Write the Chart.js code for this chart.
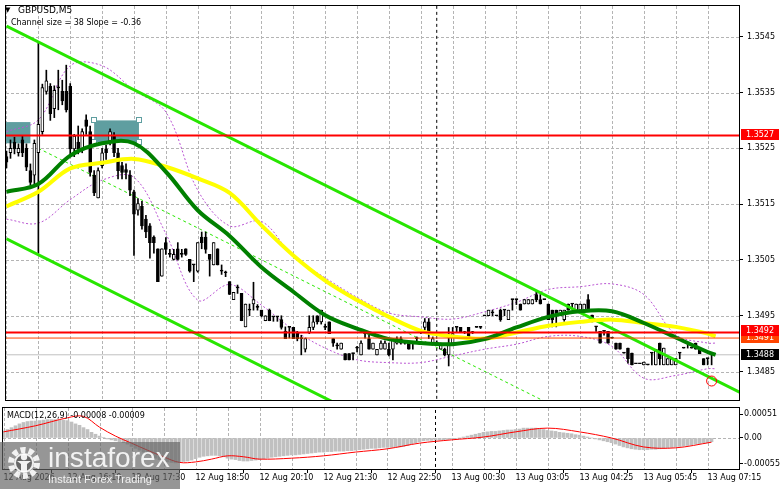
<!DOCTYPE html>
<html>
<head>
<meta charset="utf-8">
<script src="https://cdn.jsdelivr.net/npm/chart.js@4.4.1/dist/chart.umd.min.js"></script>
<style>
html, body { margin: 0; padding: 0; background: #fff; }
#wrap { position: relative; width: 781px; height: 489px; overflow: hidden; font-family: 'DejaVu Sans', sans-serif; }
#main { position: absolute; left: 0; top: 0; }
#macd { position: absolute; left: 0; top: 406px; }
.txt { position: absolute; white-space: nowrap; color: #000; }
#wm { position: absolute; left: 0; top: 442px; width: 180px; height: 47px; background: rgba(100,100,100,0.68); }
#wm .big { position: absolute; left: 48px; top: 3px; font: 27px/27px 'Liberation Sans', sans-serif; color: rgba(255,255,255,0.88); transform: scaleX(1.04); transform-origin: left top; }
#wm .small { position: absolute; left: 48px; top: 32px; font: 11px/11px 'Liberation Sans', sans-serif; color: rgba(255,255,255,0.88); }
</style>
</head>
<body>
<div id="wrap">
  <canvas id="main" width="781" height="406"></canvas>
  <canvas id="macd" width="781" height="83"></canvas>
  <div class="txt" style="left:5px;top:7px;font-size:7px;line-height:7px;">&#9660;</div>
  <div class="txt" style="left:18px;top:6px;font-size:9px;line-height:9px;">GBPUSD,M5</div>
  <div class="txt" style="left:11px;top:19px;font-size:8px;line-height:8px;">Channel size = 38 Slope = -0.36</div>
  <div class="txt" style="left:7px;top:412px;font-size:8px;line-height:8px;">MACD(12,26,9) -0.00008 -0.00009</div>
  <div id="wm">
    <svg width="44" height="47" style="position:absolute;left:2px;top:0;">
      <circle cx="22" cy="21" r="13" fill="none" stroke="rgba(255,255,255,0.88)" stroke-width="6" stroke-dasharray="5 3.2"/>
      <circle cx="22" cy="21" r="9" fill="rgba(100,100,100,0.9)" stroke="rgba(255,255,255,0.88)" stroke-width="2"/>
      <circle cx="22" cy="15" r="3.2" fill="rgba(255,255,255,0.92)"/>
      <path d="M15 19 L29 19 L25 22 L25 30 L19 30 L19 22 Z" fill="rgba(255,255,255,0.92)"/>
    </svg>
    <div class="big">instaforex</div>
    <div class="small">Instant Forex Trading</div>
  </div>
</div>
<script>
// ---- data ----
const timeLabels = ['12 Aug 2026', '12 Aug 16:10', '12 Aug 17:30', '12 Aug 18:50', '12 Aug 20:10', '12 Aug 21:30',
  '12 Aug 22:50', '13 Aug 00:30', '13 Aug 03:05', '13 Aug 04:25', '13 Aug 05:45', '13 Aug 07:15'];

const openP = [
  1.35235, 1.35242, 1.35261, 1.35242, 1.35265, 1.35250, 1.35210, 1.35202, 1.35242, 1.35280,
  1.35352, 1.35361, 1.35321, 1.35360, 1.35352, 1.35352, 1.35361, 1.35249, 1.35261, 1.35249,
  1.35301, 1.35280, 1.35202, 1.35161, 1.35219, 1.35249, 1.35263, 1.35272, 1.35242, 1.35219,
  1.35212, 1.35202, 1.35172, 1.35139, 1.35146, 1.35123, 1.35111, 1.35091, 1.35070, 1.35021,
  1.35081, 1.35060, 1.35051, 1.35070, 1.35062, 1.35070, 1.35051, 1.35041, 1.35030, 1.35091,
  1.35091, 1.35060, 1.35041, 1.35070, 1.35030, 1.35027, 1.35011, 1.34979, 1.35000, 1.34990,
  1.34930, 1.34960, 1.34971, 1.34965, 1.34960, 1.34941, 1.34960, 1.34948, 1.34948, 1.34943,
  1.34922, 1.34929, 1.34929, 1.34920, 1.34909, 1.34890, 1.34920, 1.34929, 1.34950, 1.34939,
  1.34929, 1.34939, 1.34909, 1.34896, 1.34890, 1.34882, 1.34882, 1.34882, 1.34892, 1.34880,
  1.34918, 1.34909, 1.34890, 1.34880, 1.34890, 1.34890, 1.34890, 1.34890, 1.34901, 1.34909,
  1.34901, 1.34901, 1.34901, 1.34909, 1.34920, 1.34929, 1.34939, 1.34901, 1.34901, 1.34890,
  1.34890, 1.34880, 1.34901, 1.34929, 1.34929, 1.34920, 1.34929, 1.34920, 1.34929, 1.34929,
  1.34950, 1.34950, 1.34955, 1.34950, 1.34960, 1.34960, 1.34943, 1.34979, 1.34979, 1.34971,
  1.34971, 1.34971, 1.34971, 1.34988, 1.34979, 1.34979, 1.34971, 1.34960, 1.34960, 1.34950,
  1.34943, 1.34971, 1.34971, 1.34960, 1.34960, 1.34960, 1.34979, 1.34951, 1.34930, 1.34922,
  1.34922, 1.34922, 1.34910, 1.34901, 1.34901, 1.34883, 1.34892, 1.34883, 1.34864, 1.34864,
  1.34862, 1.34862, 1.34883, 1.34862, 1.34901, 1.34862, 1.34862, 1.34862, 1.34862, 1.34883,
  1.34892, 1.34901, 1.34892, 1.34901, 1.34892, 1.34873, 1.34873, 1.34880];
const highP = [
  1.35245, 1.35265, 1.35270, 1.35258, 1.35272, 1.35258, 1.35222, 1.35265, 1.35441, 1.35365,
  1.35390, 1.35366, 1.35362, 1.35390, 1.35372, 1.35399, 1.35366, 1.35275, 1.35290, 1.35285,
  1.35310, 1.35290, 1.35210, 1.35215, 1.35250, 1.35256, 1.35285, 1.35278, 1.35250, 1.35225,
  1.35222, 1.35210, 1.35175, 1.35160, 1.35155, 1.35130, 1.35115, 1.35093, 1.35070, 1.35070,
  1.35090, 1.35069, 1.35069, 1.35081, 1.35069, 1.35070, 1.35051, 1.35041, 1.35081, 1.35100,
  1.35100, 1.35060, 1.35081, 1.35070, 1.35041, 1.35030, 1.35011, 1.34992, 1.35005, 1.34990,
  1.34971, 1.34971, 1.35010, 1.34970, 1.34960, 1.34950, 1.34962, 1.34948, 1.34948, 1.34950,
  1.34930, 1.34929, 1.34929, 1.34922, 1.34915, 1.34909, 1.34950, 1.34950, 1.34950, 1.34960,
  1.34935, 1.34939, 1.34909, 1.34901, 1.34901, 1.34882, 1.34882, 1.34882, 1.34895, 1.34905,
  1.34918, 1.34915, 1.34901, 1.34890, 1.34905, 1.34905, 1.34901, 1.34909, 1.34912, 1.34912,
  1.34905, 1.34901, 1.34901, 1.34912, 1.34922, 1.34945, 1.34945, 1.34912, 1.34905, 1.34901,
  1.34892, 1.34929, 1.34929, 1.34929, 1.34929, 1.34922, 1.34929, 1.34922, 1.34929, 1.34931,
  1.34950, 1.34960, 1.34960, 1.34950, 1.34962, 1.34960, 1.34960, 1.34979, 1.34979, 1.34971,
  1.34979, 1.34979, 1.34979, 1.34995, 1.34988, 1.34979, 1.34971, 1.34960, 1.34960, 1.34960,
  1.34960, 1.34971, 1.34971, 1.34971, 1.34971, 1.34971, 1.34988, 1.34951, 1.34930, 1.34922,
  1.34922, 1.34922, 1.34910, 1.34901, 1.34901, 1.34883, 1.34892, 1.34883, 1.34864, 1.34864,
  1.34867, 1.34862, 1.34883, 1.34890, 1.34901, 1.34892, 1.34873, 1.34873, 1.34873, 1.34883,
  1.34892, 1.34901, 1.34892, 1.34901, 1.34892, 1.34873, 1.34873, 1.34880];
const lowP = [
  1.35215, 1.35232, 1.35240, 1.35236, 1.35235, 1.35210, 1.35184, 1.35184, 1.35062, 1.35275,
  1.35347, 1.35300, 1.35305, 1.35319, 1.35328, 1.35315, 1.35240, 1.35235, 1.35240, 1.35242,
  1.35275, 1.35200, 1.35165, 1.35161, 1.35215, 1.35230, 1.35256, 1.35235, 1.35195, 1.35195,
  1.35195, 1.35165, 1.35058, 1.35130, 1.35105, 1.35090, 1.35053, 1.35062, 1.35011, 1.35021,
  1.35060, 1.35055, 1.35050, 1.35050, 1.35055, 1.35058, 1.35028, 1.35011, 1.35028, 1.35070,
  1.35062, 1.35021, 1.35041, 1.35041, 1.35024, 1.35020, 1.34988, 1.34979, 1.34990, 1.34941,
  1.34930, 1.34950, 1.34960, 1.34960, 1.34948, 1.34941, 1.34941, 1.34940, 1.34940, 1.34926,
  1.34909, 1.34910, 1.34909, 1.34905, 1.34880, 1.34885, 1.34918, 1.34925, 1.34935, 1.34935,
  1.34925, 1.34918, 1.34895, 1.34890, 1.34890, 1.34871, 1.34871, 1.34871, 1.34885, 1.34880,
  1.34910, 1.34890, 1.34890, 1.34880, 1.34890, 1.34890, 1.34878, 1.34871, 1.34899, 1.34899,
  1.34899, 1.34890, 1.34890, 1.34905, 1.34918, 1.34925, 1.34909, 1.34899, 1.34899, 1.34890,
  1.34878, 1.34860, 1.34899, 1.34920, 1.34920, 1.34918, 1.34909, 1.34918, 1.34929, 1.34927,
  1.34950, 1.34950, 1.34950, 1.34950, 1.34940, 1.34950, 1.34943, 1.34960, 1.34970, 1.34960,
  1.34971, 1.34971, 1.34971, 1.34975, 1.34971, 1.34979, 1.34943, 1.34930, 1.34930, 1.34950,
  1.34940, 1.34960, 1.34962, 1.34960, 1.34960, 1.34960, 1.34960, 1.34939, 1.34922, 1.34901,
  1.34915, 1.34901, 1.34910, 1.34890, 1.34890, 1.34883, 1.34865, 1.34862, 1.34864, 1.34864,
  1.34862, 1.34862, 1.34862, 1.34862, 1.34862, 1.34862, 1.34862, 1.34862, 1.34862, 1.34873,
  1.34892, 1.34892, 1.34892, 1.34890, 1.34882, 1.34862, 1.34862, 1.34862];
const closeP = [
  1.35225, 1.35250, 1.35249, 1.35250, 1.35242, 1.35216, 1.35189, 1.35259, 1.35293, 1.35359,
  1.35371, 1.35312, 1.35354, 1.35358, 1.35335, 1.35319, 1.35249, 1.35272, 1.35249, 1.35280,
  1.35289, 1.35207, 1.35170, 1.35210, 1.35242, 1.35242, 1.35280, 1.35242, 1.35210, 1.35207,
  1.35207, 1.35175, 1.35132, 1.35151, 1.35111, 1.35100, 1.35081, 1.35081, 1.35011, 1.35070,
  1.35069, 1.35060, 1.35060, 1.35051, 1.35060, 1.35060, 1.35030, 1.35041, 1.35081, 1.35081,
  1.35069, 1.35051, 1.35081, 1.35041, 1.35030, 1.35027, 1.34988, 1.34992, 1.35000, 1.34941,
  1.34971, 1.34960, 1.34979, 1.34965, 1.34950, 1.34950, 1.34941, 1.34948, 1.34948, 1.34929,
  1.34909, 1.34929, 1.34909, 1.34909, 1.34909, 1.34909, 1.34929, 1.34939, 1.34939, 1.34960,
  1.34929, 1.34918, 1.34901, 1.34896, 1.34901, 1.34871, 1.34871, 1.34882, 1.34892, 1.34901,
  1.34918, 1.34890, 1.34901, 1.34890, 1.34901, 1.34901, 1.34880, 1.34909, 1.34909, 1.34901,
  1.34901, 1.34890, 1.34901, 1.34909, 1.34920, 1.34939, 1.34918, 1.34909, 1.34901, 1.34901,
  1.34880, 1.34901, 1.34918, 1.34929, 1.34920, 1.34920, 1.34909, 1.34920, 1.34929, 1.34929,
  1.34950, 1.34960, 1.34955, 1.34950, 1.34943, 1.34960, 1.34960, 1.34979, 1.34979, 1.34960,
  1.34979, 1.34979, 1.34979, 1.34979, 1.34971, 1.34979, 1.34943, 1.34943, 1.34950, 1.34960,
  1.34960, 1.34960, 1.34971, 1.34971, 1.34971, 1.34971, 1.34960, 1.34939, 1.34930, 1.34901,
  1.34922, 1.34901, 1.34910, 1.34890, 1.34890, 1.34883, 1.34873, 1.34862, 1.34864, 1.34864,
  1.34867, 1.34862, 1.34883, 1.34890, 1.34873, 1.34892, 1.34873, 1.34873, 1.34873, 1.34883,
  1.34892, 1.34901, 1.34892, 1.34890, 1.34882, 1.34862, 1.34873, 1.34880];

// indicator lines, sampled every 8 bars
const maIdx = [0, 8, 16, 24, 32, 40, 48, 56, 64, 72, 80, 88, 96, 104, 112, 120, 128, 136, 144, 152, 160, 168, 176, 178];
const maGreen = [1.35172, 1.35186, 1.35237, 1.35259, 1.35259, 1.35208, 1.35139, 1.35093, 1.35037, 1.34993, 1.34951, 1.34927,
  1.34908, 1.34901, 1.34899, 1.34908, 1.34929, 1.34948, 1.34958, 1.34958, 1.34937, 1.34911, 1.34885, 1.34880];
const maYellow = [1.35146, 1.35172, 1.35214, 1.35224, 1.35231, 1.35217, 1.35196, 1.35170, 1.35112, 1.35058, 1.35013, 1.34978,
  1.34948, 1.34923, 1.34913, 1.34909, 1.34920, 1.34932, 1.34939, 1.34943, 1.34937, 1.34930, 1.34918, 1.34913];
const bandUpper = [1.35280, 1.35301, 1.35398, 1.35398, 1.35354, 1.35315, 1.35175, 1.35111, 1.35119, 1.35056, 1.35018, 1.34983,
  1.34955, 1.34948, 1.34944, 1.34957, 1.34974, 1.34997, 1.35002, 1.35007, 1.34988, 1.34916, 1.34901, 1.34901];
const bandLower = [1.35123, 1.35116, 1.35158, 1.35193, 1.35198, 1.35097, 1.34978, 1.35006, 1.34969, 1.34925, 1.34892, 1.34871,
  1.34866, 1.34866, 1.34878, 1.34890, 1.34899, 1.34913, 1.34913, 1.34895, 1.34838, 1.34843, 1.34855, 1.34855];

// regression channel
const channelIdx = [0, 184];
const channelUpper = [1.35469, 1.34813];
const channelLower = [1.35088, 1.34431];
const channelMidIdx = [8, 184];
const channelMid = [1.35250, 1.34622];

// levels and objects
const levelPrices = [1.35273, 1.3492, 1.3491, 1.3488];
const levelLabels = ['1.3527', '1.3492', '1.3491', '1.3488'];
const priceTicks = [1.3485, 1.3495, 1.3505, 1.3515, 1.3525, 1.3535, 1.3545];
const zones = [
  { from: -1, to: 6, top: 1.35297, bottom: 1.35259 },
  { from: 22, to: 33.25, top: 1.35300, bottom: 1.35261 }
];
const cursorIndex = 108;
const markerIndex = 177;
const markerPrice = 1.34833;

// MACD(12,26,9)
const macdHist = [
  0.00015, 0.00018, 0.00022, 0.00026, 0.00030, 0.00033, 0.00035, 0.00036,
  0.00036, 0.00037, 0.00038, 0.00039, 0.00039, 0.00039, 0.00038, 0.00038,
  0.00037, 0.00034, 0.00030, 0.00027, 0.00022, 0.00018, 0.00012, 0.00008,
  0.00004, 0.00001, -0.00002, -0.00004, -0.00006, -0.00008, -0.00010, -0.00013,
  -0.00018, -0.00022, -0.00026, -0.00030, -0.00034, -0.00038, -0.00043, -0.00046,
  -0.00049, -0.00051, -0.00052, -0.00053, -0.00052, -0.00050, -0.00049, -0.00047,
  -0.00044, -0.00041, -0.00039, -0.00038, -0.00037, -0.00037, -0.00038, -0.00040,
  -0.00043, -0.00045, -0.00046, -0.00048, -0.00049, -0.00049, -0.00048, -0.00047,
  -0.00046, -0.00044, -0.00043, -0.00041, -0.00040, -0.00039, -0.00038, -0.00037,
  -0.00036, -0.00036, -0.00035, -0.00034, -0.00033, -0.00032, -0.00031, -0.00030,
  -0.00030, -0.00029, -0.00029, -0.00028, -0.00028, -0.00028, -0.00027, -0.00027,
  -0.00026, -0.00025, -0.00024, -0.00023, -0.00022, -0.00022, -0.00021, -0.00020,
  -0.00020, -0.00020, -0.00019, -0.00019, -0.00018, -0.00016, -0.00013, -0.00010,
  -0.00008, -0.00006, -0.00005, -0.00005, -0.00004, -0.00004, -0.00004, -0.00003,
  -0.00002, -0.00001, 0.00000, 0.00002, 0.00004, 0.00006, 0.00008, 0.00010,
  0.00012, 0.00013, 0.00014, 0.00014, 0.00015, 0.00016, 0.00017, 0.00017,
  0.00018, 0.00019, 0.00021, 0.00021, 0.00021, 0.00021, 0.00020, 0.00018,
  0.00016, 0.00015, 0.00014, 0.00012, 0.00011, 0.00010, 0.00009, 0.00007,
  0.00006, 0.00004, 0.00002, 0.00000, -0.00002, -0.00004, -0.00006, -0.00008,
  -0.00010, -0.00013, -0.00016, -0.00019, -0.00021, -0.00023, -0.00024, -0.00025,
  -0.00025, -0.00025, -0.00024, -0.00024, -0.00023, -0.00022, -0.00021, -0.00020,
  -0.00019, -0.00018, -0.00017, -0.00016, -0.00015, -0.00013, -0.00012, -0.00011,
  -0.00010, -0.00008];
const signalIdx = [0, 8, 16, 20, 24, 28, 32, 36, 40, 44, 48, 52, 56, 60, 64, 72, 80, 88, 96, 104, 112, 120, 128, 136, 144, 152, 160, 168, 177];
const macdSignal = [0.00013, 0.00026, 0.00043, 0.00046, 0.00023, 0.00004, -0.00011, -0.00026, -0.00040, -0.00052, -0.00051,
  -0.00045, -0.00038, -0.00040, -0.00045, -0.00043, -0.00038, -0.00030, -0.00023, -0.00011, -0.00004, 0.00002, 0.00013,
  0.00021, 0.00013, 0.00000, -0.00019, -0.00021, -0.00009];
const macdTicks = [0.00051, 0, -0.00055];

// ---- drawing ----
Chart.defaults.font.family = "'DejaVu Sans', sans-serif";
Chart.defaults.font.size = 8;
Chart.defaults.color = '#000';

const X_MIN = -0.125, X_MAX = 183.875;
const GRID = '#b4b4b4';
const HIST = '#c0c0c0';

function pts(idx, vals) { return idx.map((x, k) => ({ x: x, y: vals[k] })); }

function xScale(showLabels) {
  return {
    type: 'linear', min: X_MIN, max: X_MAX, offset: false,
    afterBuildTicks: s => { s.ticks = []; for (let v = 0; v <= 176; v += 8) s.ticks.push({ value: v }); },
    afterFit: s => { s.paddingLeft = 0; s.paddingRight = 0; s.height = showLabels ? 20 : 0; },
    ticks: {
      display: showLabels, autoSkip: false, maxRotation: 0, align: 'start', padding: 0,
      callback: v => (v % 16 === 0 ? timeLabels[v / 16] : '')
    },
    grid: {
      drawOnChartArea: false, drawTicks: showLabels, tickLength: 4, tickBorderDash: [],
      tickColor: c => (c.tick && c.tick.value % 16 === 0 ? '#000' : 'rgba(0,0,0,0)')
    },
    border: { display: false }
  };
}

// dashed grid lines as pixel runs
function dashedV(ctx, px, y0, y1) {
  for (let yy = y0; yy < y1; yy += 5) ctx.fillRect(px, yy, 1, Math.min(3, y1 - yy));
}
function dashedH(ctx, py, x0, x1) {
  for (let xx = x0; xx < x1; xx += 5) ctx.fillRect(xx, py, Math.min(3, x1 - xx), 1);
}

// dashed grid, zones, frame and price tags
const framePlugin = {
  id: 'frame',
  beforeDatasetsDraw(chart, args, opts) {
    const { ctx, chartArea: a, scales: { x, y } } = chart;
    ctx.save();
    ctx.fillStyle = GRID;
    for (let v = 0; v <= 176; v += 8) {
      dashedV(ctx, Math.round(x.getPixelForValue(v)), Math.round(a.top), Math.round(a.bottom));
    }
    (opts.yGrid || []).forEach(v => {
      dashedH(ctx, Math.round(y.getPixelForValue(v)), Math.round(a.left), Math.round(a.right));
    });
    (opts.zones || []).forEach((z, k) => {
      const x1 = Math.max(x.getPixelForValue(z.from), a.left), x2 = x.getPixelForValue(z.to);
      const y1 = y.getPixelForValue(z.top), y2 = y.getPixelForValue(z.bottom);
      ctx.fillStyle = 'rgb(95,158,160)';
      ctx.fillRect(x1, y1, x2 - x1, y2 - y1);
      if (k === opts.selected) {
        ctx.fillStyle = '#fff'; ctx.strokeStyle = 'rgb(95,158,160)'; ctx.lineWidth = 1;
        [[x1, y1], [x2, y1], [x1, y2], [x2, y2]].forEach(p => {
          ctx.fillRect(Math.round(p[0]) - 2, Math.round(p[1]) - 2, 4, 4);
          ctx.strokeRect(Math.round(p[0]) - 2.5, Math.round(p[1]) - 2.5, 5, 5);
        });
      }
    });
    ctx.restore();
  },
  afterDraw(chart, args, opts) {
    const { ctx, chartArea: a } = chart;
    ctx.save();
    ctx.strokeStyle = '#000'; ctx.lineWidth = 1;
    ctx.strokeRect(a.left - 0.5, a.top - 0.5, a.right - a.left + 1, a.bottom - a.top + 1);
    if (opts.tags) {
      const y = chart.scales.y;
      ctx.font = "8px 'DejaVu Sans', sans-serif";
      ctx.textBaseline = 'middle';
      opts.tags.forEach(t => {
        const py = Math.round(y.getPixelForValue(levelPrices[t.i]));
        ctx.fillStyle = t.color;
        ctx.fillRect(a.right + 2, py - 6 + t.dy, 38, 11);
        ctx.fillStyle = '#fff';
        ctx.fillText(levelLabels[t.i], a.right + 7, py + t.dy);
      });
    }
    ctx.restore();
  }
};

const bull = openP.map((o, i) => closeP[i] > o);

new Chart(document.getElementById('main'), {
  type: 'bar',
  plugins: [framePlugin],
  data: {
    datasets: [
      { type: 'line', data: [{ x: markerIndex, y: markerPrice }], showLine: false, pointRadius: 5, pointBorderWidth: 1,
        pointBorderColor: 'rgb(255,0,0)', pointBackgroundColor: 'rgba(0,0,0,0)', order: -3, clip: 0 },
      { type: 'line', data: pts([-1, 185], [levelPrices[0], levelPrices[0]]), borderColor: 'rgb(255,0,0)', borderWidth: 2, pointRadius: 0, order: -2, clip: 0 },
      { type: 'line', data: pts([-1, 185], [levelPrices[1], levelPrices[1]]), borderColor: 'rgb(255,0,0)', borderWidth: 2, pointRadius: 0, order: -2, clip: 0 },
      { type: 'line', data: pts([-1, 185], [levelPrices[2], levelPrices[2]]), borderColor: 'rgb(255,69,0)', borderWidth: 1, pointRadius: 0, order: -1, clip: 0 },
      { type: 'line', data: pts([-1, 185], [levelPrices[3], levelPrices[3]]), borderColor: HIST, borderWidth: 1, pointRadius: 0, order: 8, clip: 0 },
      { type: 'line', data: pts(maIdx, maGreen), borderColor: 'rgb(0,128,0)', borderWidth: 4, pointRadius: 0, tension: 0.35, order: 0, clip: 0 },
      { type: 'line', data: pts(maIdx, maYellow), borderColor: 'rgb(255,255,0)', borderWidth: 4, pointRadius: 0, tension: 0.35, order: 1, clip: 0 },
      { type: 'line', data: pts(channelIdx, channelUpper), borderColor: 'rgb(40,230,0)', borderWidth: 3, pointRadius: 0, order: 3, clip: 0 },
      { type: 'line', data: pts(channelIdx, channelLower), borderColor: 'rgb(40,230,0)', borderWidth: 3, pointRadius: 0, order: 3, clip: 0 },
      { type: 'line', data: pts(channelMidIdx, channelMid), borderColor: 'rgb(40,230,0)', borderWidth: 1, borderDash: [3, 3], pointRadius: 0, order: 6, clip: 0 },
      { type: 'line', data: pts(maIdx, bandUpper), borderColor: 'rgb(186,85,211)', borderWidth: 1, borderDash: [2, 2], pointRadius: 0, tension: 0.35, order: 7, clip: 0 },
      { type: 'line', data: pts(maIdx, bandLower), borderColor: 'rgb(186,85,211)', borderWidth: 1, borderDash: [2, 2], pointRadius: 0, tension: 0.35, order: 7, clip: 0 },
      { type: 'line', data: pts([cursorIndex, cursorIndex], [1.345, 1.357]), borderColor: '#000', borderWidth: 1, borderDash: [3, 3], pointRadius: 0, order: 9, clip: 0 },
      { type: 'bar', data: openP.map((o, i) => ({ x: i, y: [o, closeP[i]] })), barThickness: 3, minBarLength: 1,
        backgroundColor: bull.map(b => (b ? '#fff' : '#000')), borderColor: '#000', borderWidth: 1, borderSkipped: false,
        grouped: false, order: 4, clip: 0 },
      { type: 'bar', data: lowP.map((l, i) => ({ x: i, y: [l, highP[i]] })), barThickness: 1, backgroundColor: '#000',
        borderWidth: 0, grouped: false, order: 5, clip: 0 }
    ]
  },
  options: {
    responsive: false, animation: false, events: [],
    layout: { padding: { left: 3, top: 2, right: 0, bottom: 1 } },
    plugins: {
      legend: { display: false }, tooltip: { enabled: false },
      frame: { zones: zones, selected: 1, yGrid: priceTicks,
        tags: [{ i: 0, color: 'rgb(255,0,0)', dy: 0 }, { i: 2, color: 'rgb(255,69,0)', dy: 0 },
               { i: 1, color: 'rgb(255,0,0)', dy: -1 }, { i: 3, color: '#000', dy: 0 }] }
    },
    scales: {
      x: xScale(false),
      y: {
        position: 'right', min: 1.34799, max: 1.35505,
        afterBuildTicks: s => { s.ticks = priceTicks.map(v => ({ value: v })); },
        afterFit: s => { s.width = 42; s.paddingTop = 0; s.paddingBottom = 0; },
        ticks: { padding: 4, callback: v => v.toFixed(4) },
        grid: { drawOnChartArea: false, tickLength: 4, tickColor: '#000', tickBorderDash: [] },
        border: { display: false }
      }
    }
  }
});

new Chart(document.getElementById('macd'), {
  type: 'bar',
  plugins: [framePlugin],
  data: {
    datasets: [
      { type: 'line', data: pts(signalIdx, macdSignal), borderColor: 'rgb(255,0,0)', borderWidth: 1, pointRadius: 0, tension: 0.35, order: 0, clip: 0 },
      { type: 'line', data: pts([cursorIndex, cursorIndex], [-0.001, 0.001]), borderColor: '#000', borderWidth: 1, borderDash: [3, 3], pointRadius: 0, order: 3, clip: 0 },
      { type: 'bar', data: macdHist.map((v, i) => ({ x: i, y: v })), barThickness: 3, backgroundColor: HIST, borderWidth: 0, order: 1, clip: 0 }
    ]
  },
  options: {
    responsive: false, animation: false, events: [],
    layout: { padding: { left: 3, top: 2, right: 0, bottom: 0 } },
    plugins: { legend: { display: false }, tooltip: { enabled: false }, frame: { yGrid: [0] } },
    scales: {
      x: xScale(true),
      y: {
        position: 'right', min: -0.00066, max: 0.000638,
        afterBuildTicks: s => { s.ticks = macdTicks.map(v => ({ value: v })); },
        afterFit: s => { s.width = 42; s.paddingTop = 0; s.paddingBottom = 0; },
        ticks: { padding: 1, callback: v => (v === 0 ? '0.00' : v.toFixed(5)) },
        grid: { drawOnChartArea: false, tickLength: 4, tickColor: '#000', tickBorderDash: [] },
        border: { display: false }
      }
    }
  }
});
</script>
</body>
</html>
